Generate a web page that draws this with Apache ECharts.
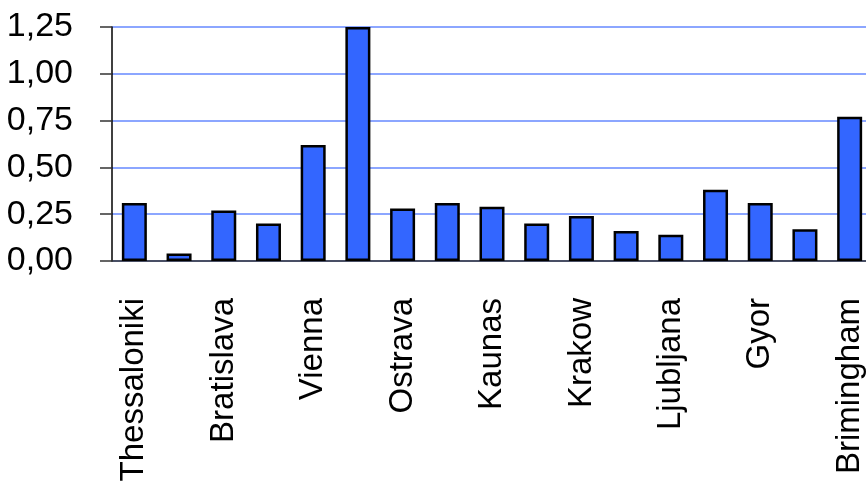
<!DOCTYPE html>
<html>
<head>
<meta charset="utf-8">
<script src="https://cdn.jsdelivr.net/npm/echarts@6/dist/echarts.min.js"></script>
<style>
  html, body { margin: 0; padding: 0; background: #fff; }
  #chart { width: 866px; height: 483px; }
</style>
</head>
<body>
<div id="chart"></div>
<script>
// every second city name is not printed on the axis in the original
const cities = ['Thessaloniki', '', 'Bratislava', '', 'Vienna', '', 'Ostrava', '', 'Kaunas',
  '', 'Krakow', '', 'Ljubljana', '', 'Gyor', '', 'Brimingham'];
const values = [0.31, 0.04, 0.27, 0.20, 0.62, 1.25, 0.28, 0.31, 0.29,
  0.20, 0.24, 0.16, 0.14, 0.38, 0.31, 0.17, 0.77];
const yTicks = [0, 0.25, 0.5, 0.75, 1, 1.25];

const font = '"Liberation Sans", Arial, sans-serif';

const chart = echarts.init(document.getElementById('chart'));
chart.setOption({
  animation: false,
  grid: { left: 112, top: 27, bottom: 222, width: 760, outerBoundsMode: 'none' },
  xAxis: {
    type: 'category',
    data: cities,
    axisLine: { lineStyle: { color: '#333', width: 1.5 } },
    axisTick: { interval: 0, length: 12, lineStyle: { color: '#333', width: 1.5 } },
    axisLabel: {
      interval: 1,
      rotate: 90,
      margin: 37,
      color: '#000',
      fontFamily: font,
      fontSize: 33
    }
  },
  yAxis: {
    type: 'value',
    min: yTicks[0],
    max: yTicks[yTicks.length - 1],
    interval: 0.25,
    axisLine: { show: true, lineStyle: { color: '#000', width: 1.5 } },
    axisTick: { show: true, length: 12, lineStyle: { color: '#333', width: 1.5 } },
    splitLine: { lineStyle: { color: '#6688ff', width: 1.5 } },
    axisLabel: {
      margin: 39,
      color: '#000',
      fontFamily: font,
      fontSize: 34,
      formatter: v => v.toFixed(2).replace('.', ',')
    }
  },
  series: [{
    type: 'bar',
    data: values,
    barWidth: 25,
    itemStyle: { color: '#3366ff', borderColor: '#000', borderWidth: 2.5 }
  }]
});
</script>
</body>
</html>
